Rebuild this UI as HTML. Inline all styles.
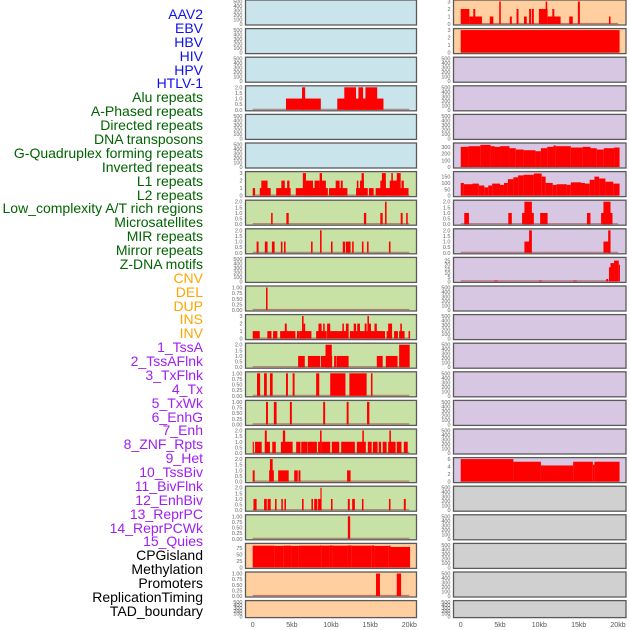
<!DOCTYPE html>
<html><head><meta charset="utf-8"><style>
body{margin:0;background:#fff;}
#c{position:relative;width:630px;height:630px;overflow:hidden;font-family:"Liberation Sans",sans-serif;}
.lab{position:absolute;right:427px;font-size:14px;line-height:14px;white-space:nowrap;text-align:right;}
svg{position:absolute;left:0;top:0;}
</style></head><body>
<div id="c">
<div class="lab" style="top:7px;color:#1010ee">AAV2</div>
<div class="lab" style="top:21px;color:#1010ee">EBV</div>
<div class="lab" style="top:35px;color:#1010ee">HBV</div>
<div class="lab" style="top:49px;color:#1010ee">HIV</div>
<div class="lab" style="top:63px;color:#1010ee">HPV</div>
<div class="lab" style="top:76px;color:#1010ee">HTLV-1</div>
<div class="lab" style="top:90px;color:#006400">Alu repeats</div>
<div class="lab" style="top:104px;color:#006400">A-Phased repeats</div>
<div class="lab" style="top:118px;color:#006400">Directed repeats</div>
<div class="lab" style="top:132px;color:#006400">DNA transposons</div>
<div class="lab" style="top:146px;color:#006400">G-Quadruplex forming repeats</div>
<div class="lab" style="top:160px;color:#006400">Inverted repeats</div>
<div class="lab" style="top:174px;color:#006400">L1 repeats</div>
<div class="lab" style="top:188px;color:#006400">L2 repeats</div>
<div class="lab" style="top:201px;color:#006400">Low_complexity A/T rich regions</div>
<div class="lab" style="top:215px;color:#006400">Microsatellites</div>
<div class="lab" style="top:229px;color:#006400">MIR repeats</div>
<div class="lab" style="top:243px;color:#006400">Mirror repeats</div>
<div class="lab" style="top:257px;color:#006400">Z-DNA motifs</div>
<div class="lab" style="top:271px;color:#ffa500">CNV</div>
<div class="lab" style="top:285px;color:#ffa500">DEL</div>
<div class="lab" style="top:299px;color:#ffa500">DUP</div>
<div class="lab" style="top:312px;color:#ffa500">INS</div>
<div class="lab" style="top:326px;color:#ffa500">INV</div>
<div class="lab" style="top:340px;color:#a020f0">1_TssA</div>
<div class="lab" style="top:354px;color:#a020f0">2_TssAFlnk</div>
<div class="lab" style="top:368px;color:#a020f0">3_TxFlnk</div>
<div class="lab" style="top:382px;color:#a020f0">4_Tx</div>
<div class="lab" style="top:396px;color:#a020f0">5_TxWk</div>
<div class="lab" style="top:410px;color:#a020f0">6_EnhG</div>
<div class="lab" style="top:423px;color:#a020f0">7_Enh</div>
<div class="lab" style="top:437px;color:#a020f0">8_ZNF_Rpts</div>
<div class="lab" style="top:451px;color:#a020f0">9_Het</div>
<div class="lab" style="top:465px;color:#a020f0">10_TssBiv</div>
<div class="lab" style="top:479px;color:#a020f0">11_BivFlnk</div>
<div class="lab" style="top:493px;color:#a020f0">12_EnhBiv</div>
<div class="lab" style="top:507px;color:#a020f0">13_ReprPC</div>
<div class="lab" style="top:521px;color:#a020f0">14_ReprPCWk</div>
<div class="lab" style="top:534px;color:#a020f0">15_Quies</div>
<div class="lab" style="top:548px;color:#000">CPGisland</div>
<div class="lab" style="top:562px;color:#000">Methylation</div>
<div class="lab" style="top:576px;color:#000">Promoters</div>
<div class="lab" style="top:590px;color:#000">ReplicationTiming</div>
<div class="lab" style="top:604px;color:#000">TAD_boundary</div>
<svg id="s" width="630" height="630" xmlns="http://www.w3.org/2000/svg"></svg>
</div>
<script>
// ---- data: segments [startKb, endKb, value] ----
const leftAlu=[[4.25,8.7,1],[6.3,6.7,2],[10.8,16.7,1],[11.7,13.2,2],[13.5,14.1,2],[14.4,15.9,2]];
const leftL1=[[0,0.3,1],[0.9,2.3,1],[1.1,1.9,2],[3.0,4.85,1],[3.66,4.1,2],[4.4,4.7,2],[5.5,9.6,1],[6.4,6.8,3],[6.8,7.7,2],[7.9,8.55,2],[8.55,8.85,3],[8.85,9.35,2],[9.75,12.1,1],[10.6,11.1,2],[11.25,11.5,2],[13.2,14.7,1],[13.3,13.5,2],[13.7,14.2,2],[13.9,14.2,3],[14.85,15.45,1],[15.7,19.9,1],[16.3,17,2],[16.5,17,3],[17.5,18.8,2],[17.7,17.9,3],[18.4,18.9,3],[19,19.3,2]];
const leftRow7=[[2.35,2.55,1],[4.3,4.6,1],[14.2,14.5,1],[16.3,16.6,1],[16.9,17.1,2],[18.9,19.15,1],[19.6,19.8,1]];
const leftRow8=[[0.5,0.75,1],[1.55,1.9,1],[2.45,2.8,1],[3.6,3.8,1],[4.0,4.2,1],[7.45,7.65,1],[8.6,8.8,2],[10.0,10.2,1],[11.5,11.8,1],[11.9,12.5,1],[12.7,12.9,1],[13.95,14.15,1],[14.6,14.8,1],[17.4,17.6,1]];
const leftRow10=[[1.7,1.9,1]];
const leftRow11=[[0,0.9,1],[1.87,2.4,1],[2.6,3.15,1],[3.5,5.45,1],[4.1,4.35,2],[5.65,5.95,1],[5.95,7.5,1],[6.3,6.5,3],[6.5,6.7,2],[8.1,9.45,1],[8.4,8.8,2],[9.0,9.2,2],[9.5,12.2,1],[9.5,9.9,2],[11.45,11.65,2],[11.9,12.25,2],[12.4,16.9,1],[12.9,13.2,2],[13.35,13.7,2],[14.3,14.55,2],[14.65,14.85,3],[14.85,15.1,2],[15.55,15.85,2],[17.1,17.8,1],[17.3,17.8,2],[18.05,18.55,1],[18.7,19.4,1],[18.85,19.05,2],[19.9,20.1,1]];
const leftRow12=[[5.8,6.65,1],[7.05,8.6,1],[8.7,10.15,1],[9.3,10.1,2],[10.4,10.65,1],[10.7,12.25,1],[15.85,16.6,1],[17.0,18.5,1],[18.7,20.05,2]];
const leftRow13=[[0.55,0.95,1],[1.45,1.8,1],[2.2,2.55,1],[4.25,4.5,1],[5.1,5.35,1],[8.1,8.5,1],[9.9,11.85,1],[12.35,14.55,1],[15.1,15.3,1]];
const leftRow14=[[1.7,1.95,1],[2.7,3.05,1],[4.75,5.0,1],[9.0,9.25,1],[12.0,12.25,1],[14.6,14.9,1]];
const leftRow15=[[0,0.15,1],[0.3,1.15,1],[1.55,2.2,1],[1.55,1.8,2],[2.5,2.95,1],[3.6,5.1,1],[3.85,4.15,2],[5.55,6.1,1],[6.2,7.0,1],[7.05,8.2,1],[8.35,8.6,1],[8.6,8.8,2],[8.8,9.9,1],[10.1,11.05,1],[11.3,13.05,1],[13.3,14.45,1],[14.0,14.2,2],[14.7,15.2,1],[15.35,15.95,1],[16.1,16.4,1],[16.6,17.1,1],[17.3,18.25,1],[17.45,17.65,2],[18.4,19.0,1],[19.3,19.8,1]];
const leftRow16=[[0,0.25,1],[2.1,2.7,1],[2.2,2.55,2],[3.25,4.6,1],[5.3,5.75,1],[5.85,6.1,1],[12.05,12.5,1]];
const leftRow17=[[0.1,0.5,1],[1.45,1.8,1],[1.9,2.3,1],[2.85,3.05,1],[3.65,3.85,1],[4.05,4.25,1],[6.3,6.5,1],[7.5,7.7,1],[7.85,8.25,1],[8.35,8.7,1],[8.65,8.8,2],[10.0,10.2,1],[12.15,12.4,1],[12.7,13.05,1],[13.95,14.15,1],[17.4,17.6,1],[19.3,19.55,1]];
const leftRow18=[[12.15,12.45,1]];
const leftCpg=[[0,2.8,85],[2.8,3.9,84],[3.9,4.9,85],[4.9,5.9,84],[5.9,8.6,85],[8.6,8.8,86],[8.8,9.8,85],[9.8,10.2,86],[10.2,12.1,85],[12.1,12.6,86],[12.6,15.2,85],[15.2,15.5,86],[15.5,17.3,84],[17.3,17.6,85],[17.6,20.1,80]];
const leftPromoters=[[15.75,16.25,1],[18.4,18.95,1]];
const rightRow0=[[0,1.1,2],[1.1,2.7,1],[1.6,1.85,2],[3.7,4.15,1],[4.9,5.1,3],[6.25,6.5,1],[7.1,7.35,2],[8.05,8.4,1],[8.7,8.95,2],[9.05,9.3,2],[9.95,11.05,2],[10.8,11.0,3],[11.05,12.7,1],[11.65,11.9,2],[13.8,14.25,1],[14.9,15.15,3],[18.85,19.05,1]];
const rightRow1=[[0,20.2,3]];
const rightRow5=[[0,1,300],[1,2.5,310],[2.5,3.8,330],[3.8,4.3,310],[4.3,5,300],[5,6.2,310],[6.2,7,280],[7,8,260],[8,9.5,250],[9.5,10.2,235],[10.2,11,280],[11,11.8,300],[11.8,12.1,320],[12.1,14,310],[14,15.5,290],[15.5,16.5,300],[16.5,17.3,280],[17.3,18.2,260],[18.2,19.5,280],[19.5,20.2,290]];
const rightRow6=[[0,0.4,100],[0.4,1.5,90],[1.5,2.3,95],[2.3,3,80],[3,3.5,65],[3.5,4,80],[4,5,95],[5,5.5,85],[5.5,6,100],[6,6.7,130],[6.7,7.3,145],[7.3,8,160],[8,9.3,165],[9.3,10.3,175],[10.3,10.8,150],[10.8,11.7,100],[11.7,12.2,85],[12.2,13.5,90],[13.5,14,85],[14,15.3,105],[15.3,15.8,100],[15.8,16.4,95],[16.4,17,125],[17,17.6,150],[17.6,18.4,135],[18.4,19.4,110],[19.4,20.2,95]];
const rightRow7=[[0.45,1.05,1],[6.05,6.5,1],[7.8,9.3,1],[8.1,9.05,2],[10.1,11.05,1],[16.05,16.5,1],[17.85,19.3,1],[18.15,19.05,2]];
const rightRow8=[[8.1,8.95,1],[8.7,9.05,2],[18.15,19.05,1],[18.75,19.05,2]];
const rightRow9=[[4.25,4.7,1],[9.95,10.3,1],[14.3,14.75,1],[18.5,18.75,3],[18.85,19.05,17],[19.05,19.5,22],[19.5,20.1,25],[20.1,20.25,20]];
const rightRow16=[[0,6.7,6],[6.7,10.2,5.3],[10.2,14.3,4.3],[14.3,16.8,5.3],[16.8,17.0,4.5],[17.0,20.2,5.3]];
// tick sets
const ticks500=["0","100","200","300","400","500"];
const ticks2=["0.0","0.5","1.0","1.5","2.0"];
const ticks3=["0","1","2","3"];
const ticks1=["0.00","0.25","0.50","0.75","1.00"];
const xTickLabels=["0","5kb","10kb","15kb","20kb"];
const xTickValues=[0,5,10,15,20];

const BG={b:"#c9e4eb",g:"#c8e2a6",o:"#ffcf9f",p:"#d7c7e3",x:"#d0d0d0"};
// [data, ymax, tickLabels, tickValues, bg]
function T(lbls){return lbls.map(Number);}
const left=[
[null,500,ticks500,null,"b"],[null,500,ticks500,null,"b"],[null,500,ticks500,null,"b"],
[leftAlu,2,ticks2,null,"b"],[null,500,ticks500,null,"b"],[null,500,ticks500,null,"b"],
[leftL1,3,ticks3,null,"g"],[leftRow7,2,ticks2,null,"g"],[leftRow8,2,ticks2,null,"g"],
[null,500,ticks500,null,"g"],[leftRow10,1,ticks1,null,"g"],[leftRow11,3,ticks3,null,"g"],
[leftRow12,2,ticks2,null,"g"],[leftRow13,1,ticks1,null,"g"],[leftRow14,1,ticks1,null,"g"],
[leftRow15,2,ticks2,null,"g"],[leftRow16,2,ticks2,null,"g"],[leftRow17,2,ticks2,null,"g"],
[leftRow18,1,ticks1,null,"g"],[leftCpg,88,["0","25","50","75"],null,"o"],
[leftPromoters,1,ticks1,null,"o"],[null,500,ticks500,null,"o"]];
const right=[
[rightRow0,3,ticks3,null,"o"],[rightRow1,3,ticks3,null,"o"],
[null,500,ticks500,null,"p"],[null,500,ticks500,null,"p"],[null,500,ticks500,null,"p"],
[rightRow5,335,["0","100","200","300"],null,"p"],[rightRow6,178,["0","50","100","150"],null,"p"],
[rightRow7,2,ticks2,null,"p"],[rightRow8,2,ticks2,null,"p"],
[rightRow9,27,["0","5","10","15","20","25"],null,"p"],
[null,500,ticks500,null,"p"],[null,500,ticks500,null,"p"],[null,500,ticks500,null,"p"],
[null,500,ticks500,null,"p"],[null,500,ticks500,null,"p"],[null,500,ticks500,null,"p"],
[rightRow16,6,["0","2","4","6"],null,"p"],
[null,500,ticks500,null,"x"],[null,500,ticks500,null,"x"],[null,500,ticks500,null,"x"],
[null,500,ticks500,null,"x"],[null,500,ticks500,null,"x"]];

const NS="http://www.w3.org/2000/svg";
const svg=document.getElementById('s');
function mk(tag,attrs,parent){const e=document.createElementNS(NS,tag);for(const k in attrs)e.setAttribute(k,attrs[k]);(parent||svg).appendChild(e);return e;}
const rowTop=i=>i*28.6;
function drawCol(col,px0,px1,x0,x1,side){
  const xs=kb=>x0+(x1-x0)*kb/20;
  col.forEach((r,i)=>{
    const [data,ymax,lbl,,bg]=r;
    const top=rowTop(i), h=(i===21?17:25);
    const y0=top+h-1, yt=top+1.5;
    const ys=v=>y0-(y0-yt)*v/ymax;
    const g=mk('g',{});
    
    
    const bgRect=mk('rect',{x:px0,y:top,width:px1-px0,height:h,fill:BG[bg],stroke:"#5a5a5a","stroke-width":1.3},g);
    
    
    if(data){
      const bl=mk('line',{x1:xs(0),x2:xs(20),y1:y0-0.5,y2:y0-0.5,stroke:"#a04040","stroke-width":1.2,opacity:0.6},g);
      
      
      data.forEach(d=>{
        const a=xs(d[0]),b=xs(d[1]);
        const rc=mk('rect',{x:a,y:ys(d[2]),width:Math.max(b-a,1),height:y0-ys(d[2]),fill:"#ff0000"},g);
        
        
      });
    }
    const n=lbl.length;
    lbl.forEach((t,k)=>{
      const v=Number(t);
      const y=ys(v);
      const tx=mk('text',{x:px0-3,y:y+2,"font-size":5.5,fill:"#666","text-anchor":"end","font-family":"Liberation Sans, sans-serif"},g);
      tx.textContent=t;
      
      
    });
  });
  xTickValues.forEach((v,k)=>{
    const tx=mk('text',{x:xs(v),y:627,"font-size":7,fill:"#555","text-anchor":"middle","font-family":"Liberation Sans, sans-serif"});
    tx.textContent=xTickLabels[k];
    
    
  });
}
drawCol(left,245.5,416.5,252.7,409.3,'left');
drawCol(right,453.5,626,460.7,618,'right');
</script>
</body></html>
